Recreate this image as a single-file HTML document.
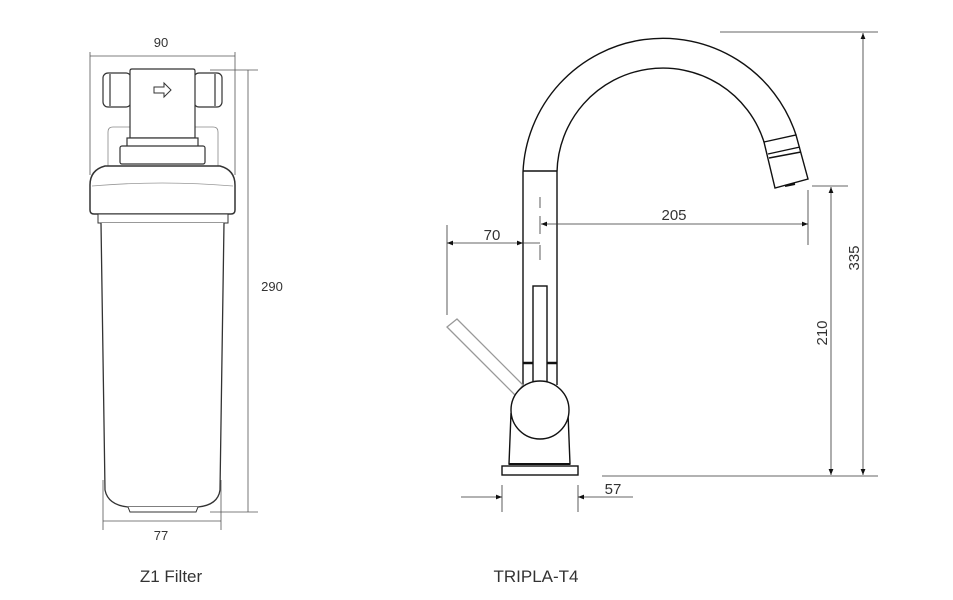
<!DOCTYPE html>
<html><head><meta charset="utf-8"><style>
html,body{margin:0;padding:0;background:#fff;}
svg{display:block;}
text{font-family:"Liberation Sans",sans-serif;fill:#333;}
</style></head><body>
<svg width="953" height="600" viewBox="0 0 953 600" xmlns="http://www.w3.org/2000/svg">
<defs>
<marker id="ar" viewBox="0 0 10 10" refX="10" refY="5" markerWidth="10" markerHeight="6" markerUnits="userSpaceOnUse" orient="auto-start-reverse"><path d="M0,1 L10,5 L0,9 z" fill="#111"/></marker>
</defs>
<!-- ========== FILTER ========== -->
<g stroke="#555" stroke-width="0.8" fill="none">
<line x1="90" y1="56" x2="235" y2="56"/>
<line x1="90" y1="52" x2="90" y2="175"/>
<line x1="235" y1="52" x2="235" y2="175"/>
<line x1="210" y1="70" x2="258" y2="70"/>
<line x1="210" y1="512" x2="258" y2="512"/>
<line x1="248" y1="70" x2="248" y2="512"/>
<line x1="103" y1="521" x2="221" y2="521"/>
<line x1="103" y1="480" x2="103" y2="530"/>
<line x1="221" y1="480" x2="221" y2="530"/>
</g>
<text x="161" y="47" font-size="13" text-anchor="middle">90</text>
<text x="272" y="291" font-size="13" text-anchor="middle">290</text>
<text x="161" y="540" font-size="13" text-anchor="middle">77</text>
<g stroke="#333" stroke-width="1.2" fill="#fff">
<!-- bracket -->
<path d="M108,175 L108,132 Q108,127 113,127 L213,127 Q218,127 218,132 L218,175" stroke="#888" stroke-width="0.8"/>
<!-- fittings -->
<rect x="103" y="73" width="28" height="34" rx="5"/>
<line x1="110" y1="74" x2="110" y2="106"/>
<rect x="194" y="73" width="28" height="34" rx="5"/>
<line x1="215" y1="74" x2="215" y2="106"/>
<!-- head block -->
<path d="M130,138 L130,71 Q130,69 132,69 L193,69 Q195,69 195,71 L195,138 z"/>
<rect x="127" y="138" width="71" height="12"/>
<rect x="120" y="146" width="85" height="18" rx="2"/>
<!-- cap -->
<path d="M90,210 L90,185 Q90,170 105,166 L220,166 Q235,170 235,185 L235,210 Q235,214 231,214 L94,214 Q90,214 90,210 z" stroke-width="1.5"/>
<path d="M92,186 Q162,180 233,186" stroke="#999" stroke-width="0.8"/>
<rect x="98" y="214" width="130" height="9" stroke-width="1"/>
<!-- bowl -->
<path d="M101,223 L105,490 Q108,505 128,507 L198,507 Q218,505 220,490 L224,223" stroke-width="1.3"/>
<path d="M128,507 L130,512 L196,512 L198,507" stroke-width="1"/>
</g>
<path d="M154,87 L164,87 L164,83 L171,90 L164,97 L164,93 L154,93 z" fill="#fff" stroke="#333" stroke-width="1"/>
<text x="171" y="582" font-size="17" text-anchor="middle">Z1 Filter</text>

<!-- ========== FAUCET ========== -->
<g stroke="#111" stroke-width="1.4" fill="none">
<!-- spout arcs -->
<path d="M523,385 L523,172 A140,140 0 0 1 796,135"/>
<path d="M557,385 L557,172 A106,106 0 0 1 764,142"/>
<line x1="523" y1="171" x2="557" y2="171"/>
<!-- nozzle -->
<path d="M764,142 L796,135 L808,179 L775,188 z" fill="#fff"/>
<line x1="768" y1="154" x2="800" y2="147"/>
<line x1="769" y1="158" x2="801" y2="152"/>
<line x1="785" y1="186" x2="795" y2="184" stroke-width="2"/>
<!-- slot -->
<rect x="533" y="286" width="14" height="96" fill="#fff"/>
<line x1="523" y1="363" x2="533" y2="363" stroke-width="2.5"/>
<line x1="547" y1="363" x2="557" y2="363" stroke-width="2.5"/>
</g>
<!-- lever -->
<path d="M447,327 L457,319 L523,385 L515,395 z" fill="#fff" stroke="#999" stroke-width="1.3"/>
<g stroke="#111" stroke-width="1.4" fill="#fff">
<path d="M511,413 L509,464 L570,464 L568,413"/>
<circle cx="540" cy="410" r="29"/>
<rect x="502" y="466" width="76" height="9"/>
<line x1="509" y1="464" x2="570" y2="464" stroke-width="2"/>
</g>
<!-- dims -->
<g stroke="#333" stroke-width="0.8" fill="none">
<line x1="540" y1="197" x2="540" y2="208" stroke-dasharray="0"/>
<line x1="540" y1="216" x2="540" y2="234"/>
<line x1="540" y1="245" x2="540" y2="260"/>
<line x1="541" y1="224" x2="808" y2="224" marker-start="url(#ar)" marker-end="url(#ar)"/>
<line x1="808" y1="190" x2="808" y2="245"/>
<line x1="447" y1="243" x2="523" y2="243" marker-start="url(#ar)" marker-end="url(#ar)"/>
<line x1="523" y1="243" x2="540" y2="243"/>
<line x1="447" y1="225" x2="447" y2="315"/>
<line x1="602" y1="476" x2="878" y2="476"/>
<line x1="720" y1="32" x2="878" y2="32"/>
<line x1="863" y1="33" x2="863" y2="475" marker-start="url(#ar)" marker-end="url(#ar)"/>
<line x1="812" y1="186" x2="848" y2="186"/>
<line x1="831" y1="187" x2="831" y2="475" marker-start="url(#ar)" marker-end="url(#ar)"/>
<line x1="461" y1="497" x2="502" y2="497" marker-end="url(#ar)"/>
<line x1="633" y1="497" x2="578" y2="497" marker-end="url(#ar)"/>
<line x1="502" y1="485" x2="502" y2="512"/>
<line x1="578" y1="485" x2="578" y2="512"/>
</g>
<text x="674" y="220" font-size="15" text-anchor="middle">205</text>
<text x="492" y="240" font-size="15" text-anchor="middle">70</text>
<text x="613" y="494" font-size="15" text-anchor="middle">57</text>
<text transform="translate(827,333) rotate(-90)" font-size="15" text-anchor="middle">210</text>
<text transform="translate(859,258) rotate(-90)" font-size="15" text-anchor="middle">335</text>
<text x="536" y="582" font-size="17" text-anchor="middle">TRIPLA-T4</text>
</svg>
</body></html>
